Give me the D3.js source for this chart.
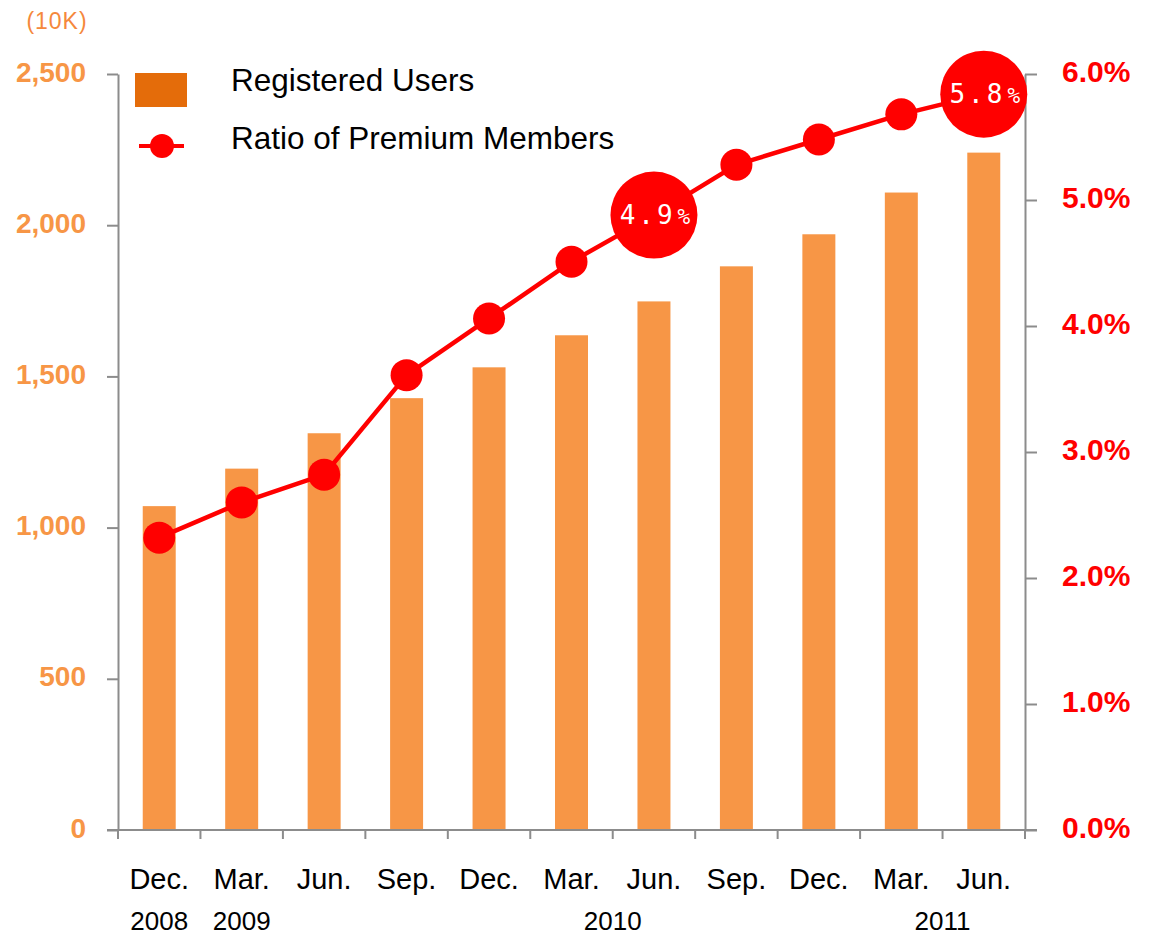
<!DOCTYPE html>
<html>
<head>
<meta charset="utf-8">
<script src="https://cdn.jsdelivr.net/npm/d3@7"></script>
<style>
  body { margin: 0; background: #fff; }
  svg { display: block; font-family: "Liberation Sans", Arial, sans-serif; }
</style>
</head>
<body>
<svg id="chart"></svg>
<script>
// Quarter labels and values
const months = ['Dec.', 'Mar.', 'Jun.', 'Sep.', 'Dec.', 'Mar.', 'Jun.', 'Sep.', 'Dec.', 'Mar.', 'Jun.'];
const quarters = ['2008Q4', '2009Q1', '2009Q2', '2009Q3', '2009Q4', '2010Q1', '2010Q2', '2010Q3', '2010Q4', '2011Q1', '2011Q2'];
const users = [1071, 1195, 1312, 1428, 1530, 1636, 1748, 1864, 1970, 2108, 2240]; // 10K
const ratio = [2.32, 2.60, 2.82, 3.61, 4.06, 4.51, 4.88, 5.28, 5.48, 5.68, 5.84]; // %
const highlighted = ['2010Q2', '2011Q2'];
const highlightText = {'2010Q2': '4.9', '2011Q2': '5.8'};
const years = ['2008', '2009', '2010', '2011'];
const yearAt = [[0, 0], [1, 1], [5, 6], [9, 10]]; // categories each year label sits between
const leftTicks = [0, 500, 1000, 1500, 2000, 2500];
const rightTicks = [0, 1, 2, 3, 4, 5, 6];

const W = 1151, H = 939;
const margin = {top: 74, right: 126, bottom: 109, left: 118};
const x0 = margin.left, x1 = W - margin.right, y0 = H - margin.bottom, y1 = margin.top;

const svg = d3.select('#chart').attr('width', W).attr('height', H);
svg.append('rect').attr('width', W).attr('height', H).attr('fill', '#fff');

const x = d3.scaleBand().domain(quarters).range([x0, x1]).paddingInner(0.6).paddingOuter(0.3);
const step = x.step();
const cx = q => x(q) + x.bandwidth() / 2;
const yL = d3.scaleLinear().domain([0, 2500]).range([y0, y1]);
const yR = d3.scaleLinear().domain([0, 6]).range([y0, y1]);

const axisColor = '#8c8c8c';

// Bars
svg.append('g').selectAll('rect')
    .data(quarters)
    .enter()
    .append('rect')
    .attr('x', d => x(d))
    .attr('y', (d, i) => yL(users[i]))
    .attr('width', x.bandwidth())
    .attr('height', (d, i) => y0 - yL(users[i]))
    .attr('fill', '#f79646');

// Left axis
const gl = svg.append('g')
    .attr('transform', `translate(${x0},0)`)
    .call(d3.axisLeft(yL).tickValues(leftTicks).tickSize(11).tickSizeOuter(0).tickPadding(21).tickFormat(d3.format(',')));
gl.selectAll('text').attr('fill', '#f79646').style('font-size', '28px').style('font-weight', 'bold').attr('dy', '0.25em');

// Right axis
const gr = svg.append('g')
    .attr('transform', `translate(${x1},0)`)
    .call(d3.axisRight(yR).tickValues(rightTicks).tickSize(12).tickSizeOuter(0).tickPadding(25).tickFormat(d => d.toFixed(1) + '%'));
gr.selectAll('text').attr('fill', '#ff0000').style('font-size', '30px').style('font-weight', 'bold').attr('dy', '0.25em');

// Bottom axis: ticks at category boundaries
const boundaries = d3.range(quarters.length + 1).map(i => x0 + i * step);
const gb = svg.append('g');
gb.append('line').attr('x1', x0 - 11).attr('x2', x1 + 12).attr('y1', y0).attr('y2', y0);
gb.selectAll('.xt')
    .data(boundaries)
    .enter()
    .append('line')
    .attr('x1', d => d).attr('x2', d => d)
    .attr('y1', y0).attr('y2', y0 + 9);

[gl, gr, gb].forEach(g => {
    g.selectAll('line, path').attr('stroke', axisColor).attr('stroke-width', 2);
});

// Month labels
svg.append('g').selectAll('text')
    .data(quarters)
    .enter()
    .append('text')
    .attr('x', d => cx(d))
    .attr('y', 889)
    .attr('text-anchor', 'middle')
    .style('font-size', '29px')
    .attr('fill', '#000')
    .text((d, i) => months[i]);

// Year labels
svg.append('g').selectAll('text')
    .data(years)
    .enter()
    .append('text')
    .attr('x', (d, i) => (cx(quarters[yearAt[i][0]]) + cx(quarters[yearAt[i][1]])) / 2)
    .attr('y', 930)
    .attr('text-anchor', 'middle')
    .style('font-size', '26px')
    .attr('fill', '#000')
    .text(d => d);

// Ratio line
const line = d3.line().x(d => cx(d)).y((d, i) => yR(ratio[i]));
svg.append('path')
    .datum(quarters)
    .attr('d', line)
    .attr('fill', 'none')
    .attr('stroke', '#ff0000')
    .attr('stroke-width', 4.5);

svg.append('g').selectAll('circle')
    .data(quarters)
    .enter()
    .append('circle')
    .attr('cx', d => cx(d))
    .attr('cy', (d, i) => yR(ratio[i]))
    .attr('r', d => highlighted.includes(d) ? 43.5 : 16)
    .attr('fill', '#ff0000');

// Callout values inside the big circles
highlighted.forEach(q => {
    const i = quarters.indexOf(q);
    const t = svg.append('text')
        .attr('x', cx(q) + 1)
        .attr('y', yR(ratio[i]) + 9)
        .attr('text-anchor', 'middle')
        .attr('fill', '#fff')
        .style('font-family', '"DejaVu Sans Mono", "Liberation Mono", monospace')
        .style('font-size', '26px')
        .style('letter-spacing', '3px');
    t.append('tspan').text(highlightText[q]);
    t.append('tspan').attr('dx', 2).style('font-size', '21px').style('letter-spacing', '0px').text('%');
});

// Unit label
svg.append('text')
    .attr('x', 57).attr('y', 29)
    .attr('text-anchor', 'middle')
    .attr('fill', '#f5883c')
    .style('font-size', '23px')
    .style('letter-spacing', '1px')
    .text('(10K)');

// Legend
const lg = svg.append('g');
lg.append('rect').attr('x', 135).attr('y', 73).attr('width', 52).attr('height', 34).attr('fill', '#e46c0a');
lg.append('text').attr('x', 231).attr('y', 91).style('font-size', '31.5px').attr('fill', '#000').text('Registered Users');
lg.append('line').attr('x1', 139).attr('x2', 184).attr('y1', 146).attr('y2', 146).attr('stroke', '#ff0000').attr('stroke-width', 4);
lg.append('circle').attr('cx', 162).attr('cy', 146).attr('r', 12).attr('fill', '#ff0000');
lg.append('text').attr('x', 231).attr('y', 149).style('font-size', '31.5px').attr('fill', '#000').text('Ratio of Premium Members');
</script>
</body>
</html>
